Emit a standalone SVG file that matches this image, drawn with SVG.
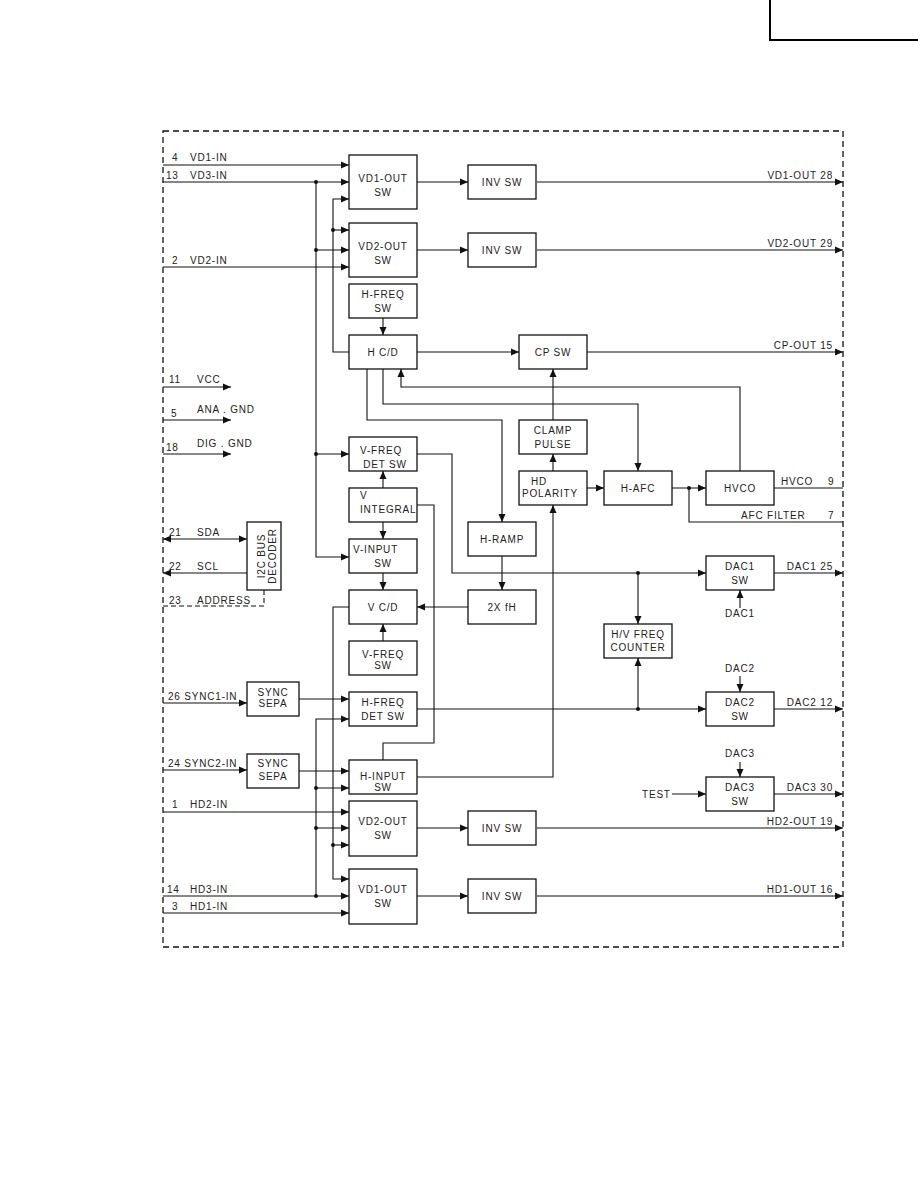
<svg xmlns="http://www.w3.org/2000/svg" width="918" height="1188" viewBox="0 0 918 1188">
<style>
.b{fill:#fff;stroke:#111;stroke-width:1.3}
.c{fill:none;stroke:#111;stroke-width:1.1}
.a{marker-end:url(#ah)}
.t{font-family:"Liberation Sans",Arial,sans-serif;font-size:10px;letter-spacing:0.8px;fill:#222}
.m{text-anchor:middle}
.e{text-anchor:end}
.d{fill:#111}
</style>
<defs>
<marker id="ah" markerUnits="userSpaceOnUse" markerWidth="9" markerHeight="8" refX="8" refY="4" orient="auto-start-reverse">
<path d="M0,0.5 L8,4 L0,7.5 z" fill="#111"/>
</marker>
</defs>
<rect width="918" height="1188" fill="#fff"/>
<path d="M770,0 V40 H918" fill="none" stroke="#000" stroke-width="2"/>
<rect x="163" y="131" width="680" height="816" fill="none" stroke="#111" stroke-width="1.3" stroke-dasharray="6,4"/>

<g id="connectors">
<path class="c a" d="M163,165 H349"/>
<path class="c a" d="M163,182 H349"/>
<path class="c a" d="M316,182 V557 H349"/>
<path class="c a" d="M316,250 H349"/>
<path class="c a" d="M316,454 H349"/>
<path class="c a" d="M349,352 H333 V199 H349"/>
<path class="c a" d="M333,230 H349"/>
<path class="c a" d="M163,267 H349"/>
<path class="c a" d="M417,182 H468"/>
<path class="c a" d="M537,182 H843"/>
<path class="c a" d="M417,250 H468"/>
<path class="c a" d="M537,250 H843"/>
<path class="c a" d="M383,318 V335"/>
<path class="c a" d="M417,352 H519"/>
<path class="c a" d="M587,352 H843"/>
<path class="c a" d="M553,420 V369"/>
<path class="c a" d="M740,471 V387 H401 V369"/>
<path class="c a" d="M383,369 V404 H638 V471"/>
<path class="c a" d="M367,369 V420 H502 V522"/>
<path class="c a" d="M553,471 V454"/>
<path class="c a" d="M587,488 H604"/>
<path class="c a" d="M672,488 H706"/>
<path class="c" d="M689,488 V522 H843"/>
<path class="c" d="M774,488 H843"/>
<path class="c a" d="M383,488 V471"/>
<path class="c a" d="M383,522 V539"/>
<path class="c a" d="M383,573 V590"/>
<path class="c a" d="M383,641 V624"/>
<path class="c a" d="M502,556 V590"/>
<path class="c a" d="M468,607 H417"/>
<path class="c a" d="M417,454 H452 V573 H706"/>
<path class="c a" d="M638,573 V624"/>
<path class="c a" d="M774,573 H843"/>
<path class="c a" d="M740,608 V590"/>
<path class="c a" d="M417,709 H706"/>
<path class="c a" d="M638,709 V658"/>
<path class="c a" d="M740,676 V692"/>
<path class="c a" d="M774,709 H843"/>
<path class="c a" d="M740,762 V777"/>
<path class="c a" d="M672,794 H706"/>
<path class="c a" d="M774,794 H843"/>
<path class="c" d="M417,505 H434 V743 H383 V760"/>
<path class="c a" d="M417,777 H553 V505"/>
<path class="c a" d="M349,607 H333 V879 H349"/>
<path class="c a" d="M333,845 H349"/>
<path class="c a" d="M316,896 V719 H349"/>
<path class="c a" d="M316,788 H349"/>
<path class="c a" d="M316,828 H349"/>
<path class="c a" d="M163,703 H247"/>
<path class="c a" d="M299,699 H349"/>
<path class="c a" d="M163,770 H247"/>
<path class="c a" d="M299,771 H349"/>
<path class="c a" d="M163,812 H349"/>
<path class="c a" d="M163,896 H349"/>
<path class="c a" d="M163,913 H349"/>
<path class="c a" d="M417,828 H468"/>
<path class="c a" d="M537,828 H843"/>
<path class="c a" d="M417,896 H468"/>
<path class="c a" d="M537,896 H843"/>
<path class="c a" d="M163,387 H231"/>
<path class="c a" d="M163,420 H231"/>
<path class="c a" d="M163,454 H231"/>
<path class="c a" d="M163,539 H247" marker-start="url(#ah)"/>
<path class="c a" d="M247,573 H163"/>
<path class="c" d="M264,590 V606 H163" stroke-dasharray="5,3"/>
<circle class="d" cx="316" cy="182" r="2"/>
<circle class="d" cx="316" cy="250" r="2"/>
<circle class="d" cx="316" cy="454" r="2"/>
<circle class="d" cx="333" cy="230" r="2"/>
<circle class="d" cx="689" cy="488" r="2"/>
<circle class="d" cx="638" cy="573" r="2"/>
<circle class="d" cx="638" cy="709" r="2"/>
<circle class="d" cx="333" cy="845" r="2"/>
<circle class="d" cx="316" cy="788" r="2"/>
<circle class="d" cx="316" cy="828" r="2"/>
<circle class="d" cx="316" cy="896" r="2"/>
</g>

<g id="n-vd1out"><rect class="b" x="349" y="155" width="68" height="54"/><text class="t m" x="383" y="182">VD1-OUT</text><text class="t m" x="383" y="196">SW</text></g>
<g id="n-vd2out"><rect class="b" x="349" y="223" width="68" height="54"/><text class="t m" x="383" y="250">VD2-OUT</text><text class="t m" x="383" y="264">SW</text></g>
<g id="n-inv1"><rect class="b" x="468" y="165" width="68" height="34"/><text class="t m" x="502" y="186">INV SW</text></g>
<g id="n-inv2"><rect class="b" x="468" y="233" width="68" height="34"/><text class="t m" x="502" y="254">INV SW</text></g>
<g id="n-hfreqsw"><rect class="b" x="349" y="284" width="68" height="34"/><text class="t m" x="383" y="298">H-FREQ</text><text class="t m" x="383" y="312">SW</text></g>
<g id="n-hcd"><rect class="b" x="349" y="335" width="68" height="34"/><text class="t m" x="383" y="356">H C/D</text></g>
<g id="n-cpsw"><rect class="b" x="519" y="335" width="68" height="34"/><text class="t m" x="553" y="356">CP SW</text></g>
<g id="n-clamp"><rect class="b" x="519" y="420" width="68" height="34"/><text class="t m" x="553" y="434">CLAMP</text><text class="t m" x="553" y="448">PULSE</text></g>
<g id="n-vfreqdet"><rect class="b" x="349" y="437" width="68" height="34"/><text class="t m" x="381" y="454">V-FREQ</text><text class="t m" x="385" y="468">DET SW</text></g>
<g id="n-hdpol"><rect class="b" x="519" y="471" width="68" height="34"/><text class="t" x="531" y="485">HD</text><text class="t" x="522" y="497">POLARITY</text></g>
<g id="n-hafc"><rect class="b" x="604" y="471" width="68" height="34"/><text class="t m" x="638" y="492">H-AFC</text></g>
<g id="n-hvco"><rect class="b" x="706" y="471" width="68" height="34"/><text class="t m" x="740" y="492">HVCO</text></g>
<g id="n-vint"><rect class="b" x="349" y="488" width="68" height="34"/><text class="t" x="360" y="499">V</text><text class="t" x="360" y="513">INTEGRAL</text></g>
<g id="n-hramp"><rect class="b" x="468" y="522" width="68" height="34"/><text class="t m" x="502" y="543">H-RAMP</text></g>
<g id="n-i2c"><rect class="b" x="247" y="522" width="34" height="68"/><text class="t m" transform="translate(264.5,556) rotate(-90)">I2C BUS</text><text class="t m" transform="translate(275.5,556) rotate(-90)">DECODER</text></g>
<g id="n-vinput"><rect class="b" x="349" y="539" width="68" height="34"/><text class="t" x="353" y="553">V-INPUT</text><text class="t m" x="383" y="567">SW</text></g>
<g id="n-dac1"><rect class="b" x="706" y="556" width="68" height="34"/><text class="t m" x="740" y="570">DAC1</text><text class="t m" x="740" y="584">SW</text></g>
<g id="n-vcd"><rect class="b" x="349" y="590" width="68" height="34"/><text class="t m" x="383" y="611">V C/D</text></g>
<g id="n-2xfh"><rect class="b" x="468" y="590" width="68" height="34"/><text class="t m" x="502" y="611">2X fH</text></g>
<g id="n-hvcnt"><rect class="b" x="604" y="624" width="68" height="34"/><text class="t m" x="638" y="638">H/V FREQ</text><text class="t m" x="638" y="651">COUNTER</text></g>
<g id="n-vfreqsw"><rect class="b" x="349" y="641" width="68" height="34"/><text class="t m" x="383" y="658">V-FREQ</text><text class="t m" x="383" y="669">SW</text></g>
<g id="n-sepa1"><rect class="b" x="247" y="682" width="52" height="34"/><text class="t m" x="273" y="696">SYNC</text><text class="t m" x="273" y="707">SEPA</text></g>
<g id="n-hfreqdet"><rect class="b" x="349" y="692" width="68" height="34"/><text class="t m" x="383" y="706">H-FREQ</text><text class="t m" x="383" y="720">DET SW</text></g>
<g id="n-dac2"><rect class="b" x="706" y="692" width="68" height="34"/><text class="t m" x="740" y="706">DAC2</text><text class="t m" x="740" y="720">SW</text></g>
<g id="n-sepa2"><rect class="b" x="247" y="754" width="52" height="34"/><text class="t m" x="273" y="767">SYNC</text><text class="t m" x="273" y="780">SEPA</text></g>
<g id="n-hinput"><rect class="b" x="349" y="760" width="68" height="34"/><text class="t m" x="383" y="780">H-INPUT</text><text class="t m" x="383" y="791">SW</text></g>
<g id="n-dac3"><rect class="b" x="706" y="777" width="68" height="34"/><text class="t m" x="740" y="791">DAC3</text><text class="t m" x="740" y="805">SW</text></g>
<g id="n-vd2out-h"><rect class="b" x="349" y="801" width="68" height="55"/><text class="t m" x="383" y="825">VD2-OUT</text><text class="t m" x="383" y="839">SW</text></g>
<g id="n-inv3"><rect class="b" x="468" y="811" width="68" height="34"/><text class="t m" x="502" y="832">INV SW</text></g>
<g id="n-vd1out-h"><rect class="b" x="349" y="869" width="68" height="55"/><text class="t m" x="383" y="893">VD1-OUT</text><text class="t m" x="383" y="907">SW</text></g>
<g id="n-inv4"><rect class="b" x="468" y="879" width="68" height="34"/><text class="t m" x="502" y="900">INV SW</text></g>

<g id="labels">
<text class="t" x="172" y="161">4</text><text class="t" x="190" y="161">VD1-IN</text>
<text class="t" x="166" y="179">13</text><text class="t" x="190" y="179">VD3-IN</text>
<text class="t" x="172" y="264">2</text><text class="t" x="190" y="264">VD2-IN</text>
<text class="t" x="169" y="383">11</text><text class="t" x="197" y="383">VCC</text>
<text class="t" x="171" y="417">5</text><text class="t" x="197" y="413">ANA . GND</text>
<text class="t" x="166" y="451">18</text><text class="t" x="197" y="447">DIG . GND</text>
<text class="t" x="169" y="536">21</text><text class="t" x="197" y="536">SDA</text>
<text class="t" x="169" y="570">22</text><text class="t" x="197" y="570">SCL</text>
<text class="t" x="169" y="604">23</text><text class="t" x="197" y="604">ADDRESS</text>
<text class="t" x="168" y="700">26 SYNC1-IN</text>
<text class="t" x="168" y="767">24 SYNC2-IN</text>
<text class="t" x="172" y="808">1</text><text class="t" x="190" y="808">HD2-IN</text>
<text class="t" x="167" y="893">14</text><text class="t" x="190" y="893">HD3-IN</text>
<text class="t" x="172" y="910">3</text><text class="t" x="190" y="910">HD1-IN</text>
<text class="t e" x="833" y="179">VD1-OUT 28</text>
<text class="t e" x="833" y="247">VD2-OUT 29</text>
<text class="t e" x="833" y="349">CP-OUT 15</text>
<text class="t" x="781" y="485">HVCO</text><text class="t" x="828" y="485">9</text>
<text class="t" x="741" y="519">AFC FILTER</text><text class="t" x="828" y="519">7</text>
<text class="t e" x="833" y="570">DAC1 25</text>
<text class="t m" x="740" y="617">DAC1</text>
<text class="t m" x="740" y="672">DAC2</text>
<text class="t e" x="833" y="706">DAC2 12</text>
<text class="t m" x="740" y="757">DAC3</text>
<text class="t" x="642" y="798">TEST</text>
<text class="t e" x="833" y="791">DAC3 30</text>
<text class="t e" x="833" y="825">HD2-OUT 19</text>
<text class="t e" x="833" y="893">HD1-OUT 16</text>
</g>
</svg>
